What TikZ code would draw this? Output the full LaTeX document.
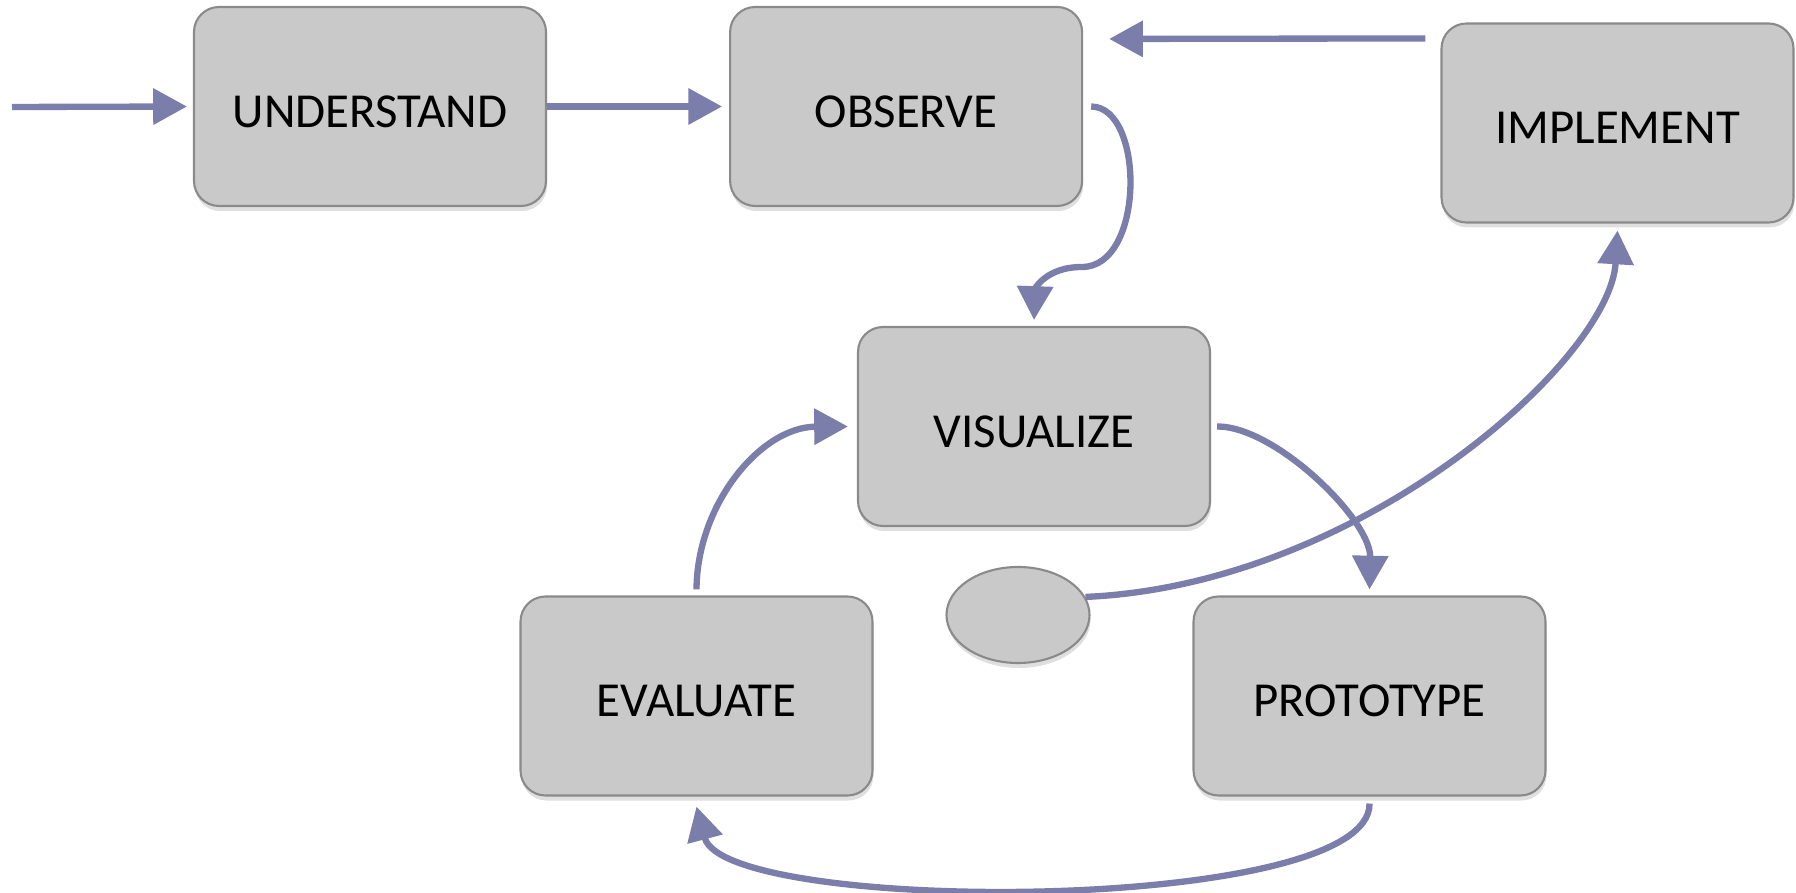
\documentclass[tikz,border=0pt]{standalone}
\usepackage{fontspec}
\setmainfont{Carlito}
\usetikzlibrary{arrows.meta,positioning,shadows,shapes.geometric}
\definecolor{myflow}{RGB}{123,125,170}
\definecolor{mybox}{RGB}{201,201,201}
\definecolor{myedge}{RGB}{138,138,138}

\begin{document}
\begin{tikzpicture}[
  stage/.style={draw=myedge,line width=0.6pt,fill=mybox,rounded corners=0.25cm,
    minimum width=3.52cm,minimum height=1.99cm,text height=11.8pt,text depth=0pt,
    font=\fontsize{13.9}{16}\selectfont,
    drop shadow={shadow xshift=0.01cm,shadow yshift=-0.05cm,opacity=0.25}},
  blob/.style={draw=myedge,line width=0.6pt,fill=mybox,ellipse,
    minimum width=1.43cm,minimum height=0.96cm,
    drop shadow={shadow xshift=0.01cm,shadow yshift=-0.05cm,opacity=0.25}},
  flow/.style={draw=myflow,line width=1.8pt,
    -{Triangle[length=9.6pt,width=10pt]}}]

  \useasboundingbox (0,0) rectangle (17.96,-8.93);

  % top row
  \node[stage] (understand) at (3.70,-1.065) {UNDERSTAND};
  \node[stage,right=1.82cm of understand] (observe) {OBSERVE};
  \node[stage] (implement) at (16.175,-1.23) {IMPLEMENT};

  % the loop
  \node[stage] (visualize) at (10.34,-4.265) {VISUALIZE};
  \node[stage] (evaluate) at (6.965,-6.96) {EVALUATE};
  \node[stage] (prototype) at (13.695,-6.96) {PROTOTYPE};
  \node[blob] (hub) at (10.18,-6.15) {};

  \coordinate (entry) at (0.12,-1.07);

  \draw[flow,shorten >=0.06cm] (entry) -- (understand.west);
  \draw[flow,shorten >=0.07cm] (understand.east) -- (observe.west);
  \draw[flow] ([xshift=-0.15cm,yshift=-0.16cm]implement.north west)
    -- ([xshift=0.26cm,yshift=-0.33cm]observe.north east);

  \draw[flow] ([xshift=0.08cm]observe.east)
    .. controls (11.45,-1.07) and (11.45,-2.67) .. (10.82,-2.67)
    .. controls (10.45,-2.67) and (10.35,-2.90) .. ([yshift=0.06cm]visualize.north);

  \draw[flow] ([xshift=0.06cm]visualize.east)
    .. controls (12.75,-4.26) and (13.71,-5.20) .. ([yshift=0.06cm]prototype.north);

  \draw[flow] ([yshift=0.06cm]evaluate.north)
    .. controls (6.97,-5.04) and (7.61,-4.27) .. ([xshift=-0.09cm]visualize.west);

  \draw[flow] ([yshift=-0.07cm]prototype.south)
    .. controls (13.71,-9.15) and (7.25,-9.15) .. ([yshift=-0.10cm]evaluate.south);

  \draw[flow] (hub.15)
    .. controls (13.60,-5.85) and (16.10,-3.60) .. ([yshift=-0.07cm]implement.south);

\end{tikzpicture}
\end{document}
